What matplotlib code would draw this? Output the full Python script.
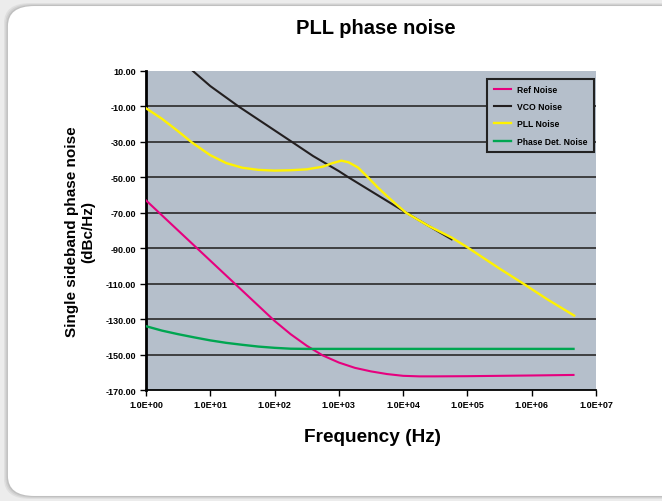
import matplotlib.pyplot as plt
from matplotlib.patches import FancyBboxPatch

plt.rcParams['font.family'] = ['Liberation Sans', 'DejaVu Sans']
plt.rcParams['font.weight'] = 'bold'

# log10(frequency) / dBc/Hz
ref_logf = [0, 0.25, 0.5, 0.75, 1.0, 1.25, 1.5, 1.75, 2.0, 2.25, 2.5, 2.75, 3.0, 3.25, 3.5, 3.75, 4.0, 4.25, 4.5, 5.0, 5.5, 6.0, 6.65]
ref_db = [-63, -71.5, -80, -88.5, -97, -105.5, -114, -122.5, -131, -138.5, -145, -150.5, -154.5, -157.5, -159.5, -161, -162, -162.3, -162.3, -162.2, -162, -161.8, -161.5]

vco_logf = [0.73, 1.0, 1.44, 2.0, 2.27, 2.6, 3.0, 3.15, 3.6, 4.05, 4.4, 4.755]
vco_db = [10, 1.5, -10, -23.5, -30, -38, -46.5, -50, -60, -70, -77.5, -85]

pll_logf = [0, 0.25, 0.5, 0.71, 1.0, 1.25, 1.5, 1.75, 2.0, 2.25, 2.5, 2.75, 2.9, 3.04, 3.15, 3.3, 3.48, 3.6, 3.74, 3.9, 4.05, 4.4, 4.755, 5.0, 5.5, 5.87, 6.25, 6.66]
pll_db = [-11, -17, -24, -30.2, -37.5, -42, -44.6, -45.8, -46.2, -46, -45.5, -44, -42, -40.6, -41.5, -44.5, -51, -55.5, -60.3, -65.5, -70.1, -77.5, -84, -89.5, -101.5, -110, -119, -128]

pd_logf = [0, 0.25, 0.5, 0.75, 1.0, 1.25, 1.5, 1.75, 2.0, 2.25, 2.5, 3.0, 4.0, 5.0, 6.0, 6.65]
pd_db = [-134, -136.5, -138.5, -140.3, -142, -143.4, -144.5, -145.5, -146.2, -146.7, -146.8, -146.8, -146.8, -146.8, -146.8, -146.8]

yticks = list(range(10, -171, -20))
xticks = [1e0, 1e1, 1e2, 1e3, 1e4, 1e5, 1e6, 1e7]
xlabels = ['1.0E+00', '1.0E+01', '1.0E+02', '1.0E+03', '1.0E+04', '1.0E+05', '1.0E+06', '1.0E+07']

fig = plt.figure(figsize=(6.62, 5.02), dpi=100)
fig.patch.set_facecolor('#ececec')

# card with soft shadow
for i, a in enumerate([0.05, 0.06, 0.08]):
    d = (3 - i) * 0.002
    fig.patches.append(FancyBboxPatch((0.012 - d, 0.01 - d), 1.05 + 2 * d, 0.976 + 2 * d,
                                      boxstyle='round,pad=0,rounding_size=0.04',
                                      transform=fig.transFigure, facecolor='black',
                                      edgecolor='none', alpha=a, zorder=0))
fig.patches.append(FancyBboxPatch((0.012, 0.01), 1.05, 0.976,
                                  boxstyle='round,pad=0,rounding_size=0.04',
                                  transform=fig.transFigure, facecolor='white',
                                  edgecolor='none', zorder=1))

ax = fig.add_axes([0.2205, 0.2211, 0.6798, 0.6355])
ax.set_zorder(5)
ax.set_facecolor('#b5bfcb')
ax.set_xscale('log')
ax.set_xlim(1, 1e7)
ax.set_ylim(-170, 10)

for y in yticks[1:-1]:
    ax.axhline(y, color='#2a2a2a', lw=1.2, zorder=1)

f = lambda l: [10 ** v for v in l]
ax.plot(f(ref_logf), ref_db, color='#e6007e', lw=1.5, label='Ref Noise', zorder=3)
ax.plot(f(vco_logf), vco_db, color='#231f20', lw=1.5, label='VCO Noise', zorder=3)
ax.plot(f(pll_logf), pll_db, color='#fff200', lw=1.7, label='PLL Noise', zorder=4)
ax.plot(f(pd_logf), pd_db, color='#00a651', lw=1.7, label='Phase Det. Noise', zorder=3)

ax.set_yticks(yticks)
ax.set_yticklabels(['%.2f' % v for v in yticks], fontsize=6.5, fontweight='bold')
ax.set_xticks(xticks)
ax.set_xticklabels(xlabels, fontsize=6.5, fontweight='bold')
ax.minorticks_off()
ax.tick_params(axis='both', direction='out', length=4, width=1, color='black', pad=3)

for s in ['top', 'right']:
    ax.spines[s].set_visible(False)
ax.spines['left'].set_linewidth(2)
ax.spines['bottom'].set_linewidth(1.3)

leg = ax.legend(loc='upper right', bbox_to_anchor=(0.996, 0.976), borderaxespad=0,
                fontsize=6.2, frameon=True, fancybox=False, facecolor='#b5bfcb',
                edgecolor='#222222', handlelength=2.0, labelspacing=0.95, borderpad=0.75,
                handletextpad=0.75)
leg.get_frame().set_linewidth(1.5)
leg.get_frame().set_alpha(1)
leg.set_zorder(10)

fig.text(0.568, 0.944, 'PLL phase noise', ha='center', va='center', fontsize=14.5, fontweight='bold')
fig.text(0.563, 0.128, 'Frequency (Hz)', ha='center', va='center', fontsize=13.7, fontweight='bold')
fig.text(0.121, 0.538, 'Single sideband phase noise\n(dBc/Hz)', ha='center', va='center',
         rotation=90, fontsize=11, fontweight='bold', linespacing=1.2, zorder=6)

fig.savefig('out.png', dpi=100, facecolor=fig.get_facecolor())
